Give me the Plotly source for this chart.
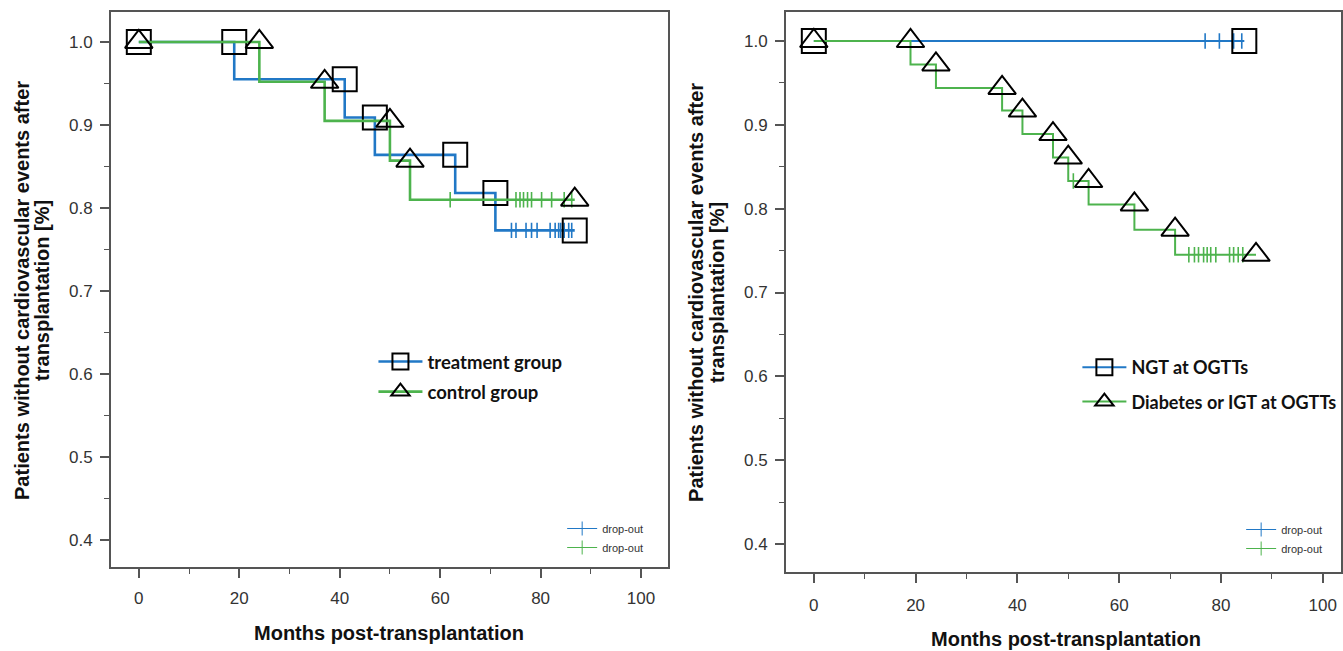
import plotly.graph_objects as go

# ---------------- data ----------------
# Left panel: treatment vs control
treat_event_times = [19, 41, 47, 63, 71]
treat_surv = [1.0, 0.955, 0.909, 0.864, 0.818, 0.773]
treat_censor_times = [74.2, 75.1, 77.1, 78.2, 79.3, 81.9, 82.9, 83.6, 84.0, 84.7, 85.6, 86.2]
treat_end = 86.8

control_event_times = [24, 37, 50, 54]
control_surv = [1.0, 0.952, 0.905, 0.857, 0.810]
control_censor_times = [62.0, 75.1, 75.9, 76.6, 77.4, 78.2, 80.2, 82.2, 84.7, 86.2]
control_end = 86.8

# Right panel: NGT vs Diabetes/IGT at OGTTs
ngt_event_times = []
ngt_surv = [1.0]
ngt_censor_times = [76.9, 79.7, 82.5, 84.1]
ngt_end = 84.6

dm_event_times = [19, 24, 37, 41, 47, 50, 54, 63, 71]
dm_surv = [1.0, 0.972, 0.944, 0.917, 0.889, 0.861, 0.833, 0.805, 0.775, 0.745]
dm_censor_times = [51.0, 73.7, 74.8, 75.6, 76.6, 77.3, 78.0, 79.0, 81.7, 82.5, 83.4, 84.3]
dm_end = 86.9

x_ticks = [0, 20, 40, 60, 80, 100]
y_ticks = [0.4, 0.5, 0.6, 0.7, 0.8, 0.9, 1.0]

left_labels = ["treatment group", "control group"]
right_labels = ["NGT at OGTTs", "Diabetes or IGT at OGTTs"]
censor_label = "drop-out"
x_title = "Months post-transplantation"
y_title_lines = ["Patients without cardiovascular events after", "transplantation [%]"]

BLUE = "#2178c6"
GREEN = "#4db34d"
W, H = 1343, 651


def step_xy(events, surv, end):
    return [0] + list(events) + [end], list(surv) + [surv[-1]]


def surv_at(t, events, surv):
    k = sum(1 for e in events if e <= t)
    return surv[k]


def marker_xy(events, surv, end):
    xs = [0] + list(events) + [end]
    ys = [surv[0]] + [surv[i] for i in range(len(events))] + [surv[-1]]
    return xs, ys


fig = go.Figure()


def add_group(events, surv, censors, end, color, symbol, lw, xa, ya, name, legend, lg_censor):
    sx, sy = step_xy(events, surv, end)
    fig.add_trace(go.Scatter(x=sx, y=sy, mode="lines", line=dict(color=color, width=lw, shape="hv"),
                             xaxis=xa, yaxis=ya, showlegend=False, hoverinfo="skip"))
    cy = [surv_at(t, events, surv) for t in censors]
    fig.add_trace(go.Scatter(x=censors, y=cy, mode="markers",
                             marker=dict(symbol="line-ns-open", size=11, color=color,
                                         line=dict(color=color, width=1.6)),
                             xaxis=xa, yaxis=ya, showlegend=False, hoverinfo="skip"))
    mx, my = marker_xy(events, surv, end)
    fig.add_trace(go.Scatter(x=mx, y=my, mode="markers",
                             marker=dict(symbol=symbol, size=24, color="black", line=dict(color="black", width=2)),
                             xaxis=xa, yaxis=ya, showlegend=False, hoverinfo="skip"))
    # legend entries
    fig.add_trace(go.Scatter(x=[None], y=[None], mode="lines+markers", name=name,
                             line=dict(color=color, width=lw),
                             marker=dict(symbol=symbol, size=24, color="black", line=dict(color="black", width=2)),
                             xaxis=xa, yaxis=ya, legend=legend, legendgroup=name))
    fig.add_trace(go.Scatter(x=[None], y=[None], mode="lines+markers", name=censor_label,
                             line=dict(color=color, width=1),
                             marker=dict(symbol="cross-thin-open", size=10, color=color,
                                         line=dict(color=color, width=1)),
                             xaxis=xa, yaxis=ya, legend=lg_censor, legendgroup=name + "c"))


add_group(treat_event_times, treat_surv, treat_censor_times, treat_end, BLUE, "square-open", 2.6,
          "x", "y", left_labels[0], "legend", "legend2")
add_group(control_event_times, control_surv, control_censor_times, control_end, GREEN, "triangle-up-open", 2.6,
          "x", "y", left_labels[1], "legend", "legend2")
add_group(ngt_event_times, ngt_surv, ngt_censor_times, ngt_end, BLUE, "square-open", 2.0,
          "x2", "y2", right_labels[0], "legend3", "legend4")
add_group(dm_event_times, dm_surv, dm_censor_times, dm_end, GREEN, "triangle-up-open", 2.0,
          "x2", "y2", right_labels[1], "legend3", "legend4")

tick_font = dict(family="Liberation Sans Narrow, Arial Narrow, Liberation Sans", size=17, color="#333")
axis_common = dict(showline=True, mirror=True, linecolor="#555", linewidth=1.5, ticks="outside",
                   tickcolor="#555", tickwidth=1.5, ticklen=9, showgrid=False, zeroline=False,
                   tickfont=tick_font)
minor_x = dict(dtick=10, ticks="outside", ticklen=5, tickcolor="#555", tickwidth=1.2)
minor_y = dict(dtick=0.05, ticks="outside", ticklen=5, tickcolor="#555", tickwidth=1.2)

fig.update_layout(
    width=W, height=H, margin=dict(l=0, r=0, t=0, b=0, pad=0),
    paper_bgcolor="white", plot_bgcolor="white",
    xaxis=dict(domain=[111 / W, 669 / W], range=[-5.57, 105.37], tickvals=x_ticks, minor=minor_x,
               ticklabelstandoff=6, anchor="y", **axis_common),
    yaxis=dict(domain=[1 - 567 / H, 1 - 12 / H], range=[0.3675, 1.0361], tickvals=y_ticks, tickformat=".1f",
               minor=minor_y, ticklabelstandoff=4, anchor="x", **axis_common),
    xaxis2=dict(domain=[787 / W, 1.0], range=[-5.5, 103.6], tickvals=x_ticks, minor=minor_x,
                ticklabelstandoff=8, anchor="y2", **axis_common),
    yaxis2=dict(domain=[1 - 572 / H, 1 - 12 / H], range=[0.3666, 1.0346], tickvals=y_ticks, tickformat=".1f",
                minor=minor_y, ticklabelstandoff=4, anchor="x2", **axis_common),
    legend=dict(x=374 / W, y=1 - 343 / H, xanchor="left", yanchor="top", bgcolor="rgba(0,0,0,0)",
                font=dict(family="Lato, Open Sans", size=18.5, color="#111", weight="bold"),
                itemwidth=44, tracegroupgap=3, itemclick=False),
    legend2=dict(x=563 / W, y=1 - 514 / H, xanchor="left", yanchor="top", bgcolor="rgba(0,0,0,0)",
                 font=dict(family="Liberation Sans Narrow, Liberation Sans", size=11, color="#333"),
                 itemwidth=30, tracegroupgap=0, itemclick=False),
    legend3=dict(x=1079 / W, y=1 - 349 / H, xanchor="left", yanchor="top", bgcolor="rgba(0,0,0,0)",
                 font=dict(family="Lato, Open Sans", size=18, color="#111", weight="bold"),
                 itemwidth=44, tracegroupgap=8, itemclick=False),
    legend4=dict(x=1243 / W, y=1 - 515 / H, xanchor="left", yanchor="top", bgcolor="rgba(0,0,0,0)",
                 font=dict(family="Liberation Sans Narrow, Liberation Sans", size=11, color="#333"),
                 itemwidth=30, tracegroupgap=0, itemclick=False),
    showlegend=True,
)

title_font = dict(family="Liberation Sans, Arial", size=20, color="#111", weight="bold")
# y titles (two lines each)
for xc, yc in [((22, 42), 290), ((697, 718), 292)]:
    for line_text, xp in zip(y_title_lines, xc):
        fig.add_annotation(text=line_text, xref="paper", yref="paper", x=xp / W, y=1 - yc / H, textangle=-90,
                           showarrow=False, font=title_font, xanchor="center", yanchor="middle")
# x titles
fig.add_annotation(text=x_title, xref="paper", yref="paper", x=390 / W, y=1 - 633 / H,
                   showarrow=False, font=title_font, xanchor="center", yanchor="middle")
fig.add_annotation(text=x_title, xref="paper", yref="paper", x=1068 / W, y=1 - 639 / H,
                   showarrow=False, font=title_font, xanchor="center", yanchor="middle")

fig.write_html("out.html", config={"displayModeBar": False},
               post_script="document.body.style.margin='0px';")
